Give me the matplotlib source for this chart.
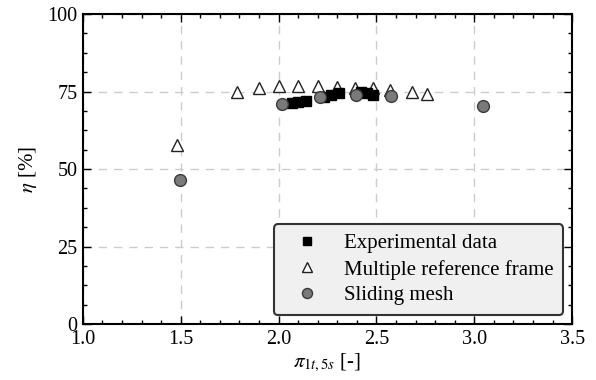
import matplotlib
matplotlib.use("Agg")
import matplotlib.pyplot as plt
from matplotlib.ticker import AutoMinorLocator

# Data
exp_x = [2.07, 2.10, 2.14, 2.23, 2.27, 2.31, 2.42, 2.45, 2.48]
exp_y = [71.2, 71.6, 72.1, 73.2, 73.8, 74.5, 74.8, 74.5, 74.0]

mrf_x = [1.48, 1.79, 1.90, 2.00, 2.10, 2.20, 2.30, 2.39, 2.48, 2.57, 2.68, 2.76]
mrf_y = [57.7, 75.0, 76.0, 76.9, 76.9, 76.7, 76.5, 76.3, 76.0, 75.6, 75.0, 74.1]

sm_x = [1.496, 2.016, 2.21, 2.395, 2.575, 3.047]
sm_y = [46.5, 71.0, 73.3, 73.9, 73.5, 70.3]

labels = ["Experimental data", "Multiple reference frame", "Sliding mesh"]
xticks = [1.0, 1.5, 2.0, 2.5, 3.0, 3.5]
yticks = [0, 25, 50, 75, 100]

plt.rcParams['font.family'] = ['Liberation Serif', 'DejaVu Serif']
plt.rcParams['mathtext.fontset'] = 'stix'

fig = plt.figure(figsize=(5.96, 3.8), dpi=100)
ax = fig.add_axes([0.139, 0.147, 0.821, 0.816])

ax.plot(exp_x, exp_y, linestyle='none', marker='s', markersize=7,
        color='black', label=labels[0], zorder=4)
ax.plot(mrf_x, mrf_y, linestyle='none', marker='^', markersize=9,
        markerfacecolor='white', markeredgecolor='#222222', markeredgewidth=1.0,
        label=labels[1], zorder=3)
ax.plot(sm_x, sm_y, linestyle='none', marker='o', markersize=8.5,
        markerfacecolor='#7a7a7a', markeredgecolor='#3a3a3a', markeredgewidth=1.0,
        label=labels[2], zorder=5)

ax.set_xlim(1.0, 3.5)
ax.set_ylim(0, 100)
ax.set_xticks(xticks)
ax.set_yticks(yticks)
ax.set_xticklabels([f"{v:.1f}" for v in xticks])
ax.set_yticklabels([str(v) for v in yticks])
ax.xaxis.set_minor_locator(AutoMinorLocator(5))
ax.yaxis.set_minor_locator(AutoMinorLocator(4))

ax.tick_params(which='both', direction='in', top=True, right=True,
               labelsize=14.5, width=1.0)
ax.tick_params(which='major', length=6, pad=4)
ax.tick_params(which='minor', length=3)
for s in ax.spines.values():
    s.set_linewidth(1.5)

ax.grid(True, which='major', color='#cccccc', linestyle=(0, (6, 5)), linewidth=1.0)
ax.set_axisbelow(True)

ax.set_xlabel(r'$\pi_{1t,5s}$ [-]', fontsize=15, labelpad=2)
ax.set_ylabel(r'$\eta$ [%]', fontsize=15, labelpad=6)

leg = ax.legend(loc='lower right', fontsize=15, frameon=True, fancybox=True,
                labelspacing=0.3, handletextpad=0.6, borderpad=0.45,
                borderaxespad=0.45, handlelength=2.3, markerscale=0.85)
frame = leg.get_frame()
frame.set_facecolor('#f0f0f0')
frame.set_edgecolor('#333333')
frame.set_linewidth(1.5)
frame.set_alpha(1.0)

fig.savefig("out.png", dpi=100)
